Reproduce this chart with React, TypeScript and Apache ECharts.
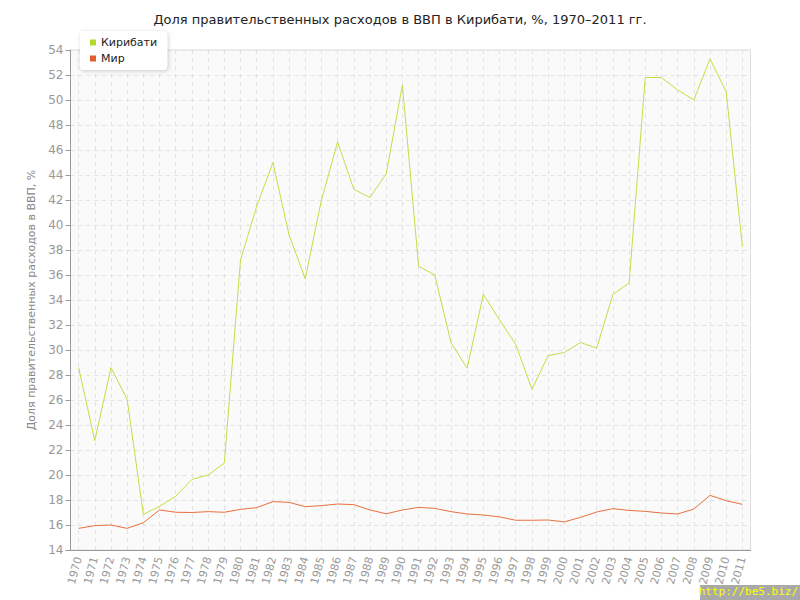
import React, { useEffect, useRef } from "react";
import * as echarts from "echarts";

const years: string[] = [
  "1970","1971","1972","1973","1974","1975","1976","1977","1978","1979",
  "1980","1981","1982","1983","1984","1985","1986","1987","1988","1989",
  "1990","1991","1992","1993","1994","1995","1996","1997","1998","1999",
  "2000","2001","2002","2003","2004","2005","2006","2007","2008","2009",
  "2010","2011",
];

const kiribati: number[] = [
  28.6, 22.75, 28.6, 26.05, 16.85, 17.5, 18.3, 19.65, 20.0, 20.95,
  37.2, 41.5, 45.0, 39.2, 35.7, 42.0, 46.65, 42.85, 42.2, 44.1,
  51.2, 36.7, 36.0, 30.6, 28.55, 34.45, 32.4, 30.45, 26.85, 29.55,
  29.8, 30.6, 30.15, 34.45, 35.35, 51.8, 51.8, 50.8, 50.0, 53.3,
  50.65, 38.25,
];

const world: number[] = [
  15.73, 15.95, 16.0, 15.73, 16.19, 17.2, 17.02, 17.0, 17.07, 17.02,
  17.25, 17.39, 17.87, 17.81, 17.47, 17.55, 17.68, 17.63, 17.2, 16.9,
  17.2, 17.41, 17.33, 17.07, 16.88, 16.8, 16.65, 16.38, 16.38, 16.4,
  16.25, 16.61, 17.04, 17.31, 17.17, 17.09, 16.96, 16.88, 17.28, 18.37,
  17.95, 17.65,
];

const seriesNames: string[] = ["Кирибати", "Мир"];
const titleText = "Доля правительственных расходов в ВВП в Кирибати, %, 1970–2011 гг.";
const yAxisName = "Доля правительственных расходов в ВВП, %";
const watermark = "http://be5.biz/";

const FONT = "'DejaVu Sans', Verdana, sans-serif";

export default function App() {
  const ref = useRef<HTMLDivElement>(null);

  useEffect(() => {
    if (!ref.current) return;
    const chart = echarts.init(ref.current, undefined, { renderer: "svg" });
    chart.setOption({
      animation: false,
      backgroundColor: "#ffffff",
      textStyle: { fontFamily: FONT },
      title: {
        text: titleText,
        left: "center",
        top: 8,
        textStyle: { fontFamily: FONT, fontSize: 13, fontWeight: "normal", color: "#222" },
      },
      legend: {
        orient: "vertical",
        left: 80,
        top: 31,
        padding: [6, 10, 6, 10],
        itemWidth: 6,
        itemHeight: 6,
        itemGap: 5,
        icon: "rect",
        backgroundColor: "#ffffff",
        borderRadius: 4,
        shadowColor: "rgba(0,0,0,0.2)",
        shadowBlur: 4,
        shadowOffsetX: 1,
        shadowOffsetY: 1,
        textStyle: { fontFamily: FONT, fontSize: 11, color: "#222", padding: [0, 0, 0, 0] },
        data: seriesNames,
      },
      grid: {
        left: 70.5,
        right: 49.5,
        top: 50,
        bottom: 50,
        show: true,
        backgroundColor: "#fafafa",
        borderColor: "#dddddd",
        borderWidth: 1,
        containLabel: false,
      },
      xAxis: {
        type: "category",
        data: years,
        boundaryGap: true,
        axisLine: { lineStyle: { color: "#999", width: 1 } },
        axisTick: { alignWithLabel: true, length: 5, lineStyle: { color: "#999" }, interval: 0 },
        axisLabel: {
          interval: 0,
          rotate: 75,
          color: "#999",
          fontSize: 11,
          fontFamily: FONT,
          margin: 7,
        },
        splitLine: {
          show: true,
          alignWithLabel: true,
          interval: 0,
          lineStyle: { color: "#e2e2e2", type: [4, 4], width: 1 },
        },
      },
      yAxis: {
        type: "value",
        min: 14,
        max: 54,
        interval: 2,
        name: yAxisName,
        nameLocation: "middle",
        nameGap: 31,
        nameTextStyle: { color: "#888", fontSize: 11, fontFamily: FONT },
        axisLine: { show: true, lineStyle: { color: "#999", width: 1 } },
        axisTick: { show: true, length: 5, lineStyle: { color: "#999" } },
        axisLabel: { color: "#999", fontSize: 12, fontFamily: FONT, margin: 7 },
        splitLine: { show: true, lineStyle: { color: "#e2e2e2", type: [4, 4], width: 1 } },
      },
      series: [
        {
          name: seriesNames[0],
          type: "line",
          data: kiribati,
          showSymbol: false,
          symbol: "none",
          lineStyle: { color: "#c3de45", width: 1 },
          itemStyle: { color: "#b5d62b" },
          z: 3,
        },
        {
          name: seriesNames[1],
          type: "line",
          data: world,
          showSymbol: false,
          symbol: "none",
          lineStyle: { color: "#e8703f", width: 1 },
          itemStyle: { color: "#e0612e" },
          z: 2,
        },
      ],
      graphic: [
        {
          type: "rect",
          left: 700,
          top: 585,
          shape: { width: 100, height: 15 },
          style: { fill: "rgba(140,140,140,0.75)" },
          z: 100,
        },
        {
          type: "text",
          right: 2,
          top: 586,
          style: {
            text: watermark,
            fill: "#ffff00",
            font: "11px 'DejaVu Sans Mono', monospace",
          },
          z: 101,
        },
      ],
    });
    return () => chart.dispose();
  }, []);

  return <div ref={ref} style={{ width: 800, height: 600, position: "absolute", left: 0, top: 0 }} />;
}
